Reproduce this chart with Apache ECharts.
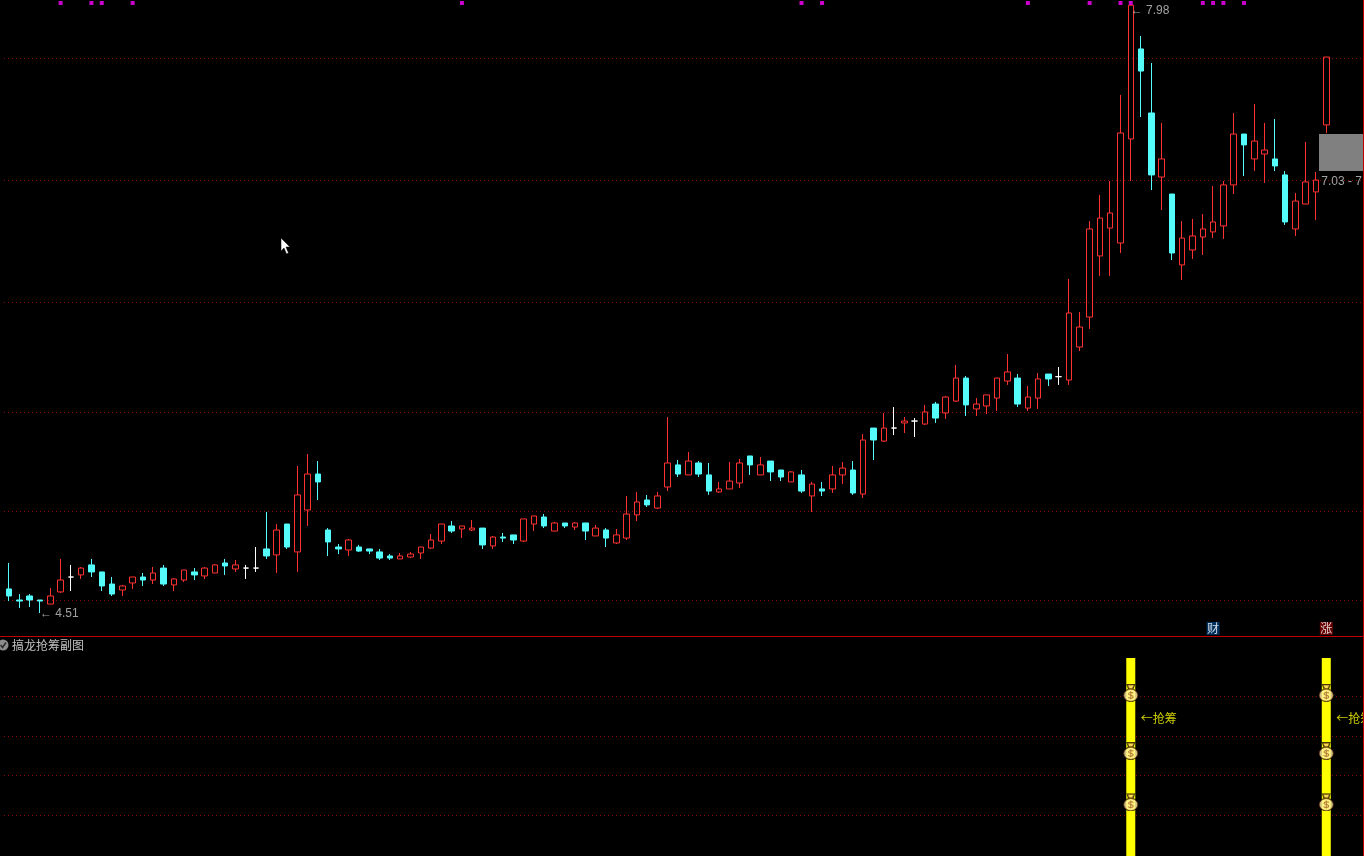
<!DOCTYPE html>
<html>
<head>
<meta charset="utf-8">
<style>html,body{margin:0;padding:0;background:#000;overflow:hidden}#c{width:1364px;height:856px}</style>
<script src="https://cdn.jsdelivr.net/npm/echarts@6/dist/echarts.min.js"></script>
</head>
<body>
<div id="c"></div>
<script>
const opens = [
4.653,4.590,4.613,4.590,4.567,4.636,4.721,4.733,4.790,4.750,
4.681,4.647,4.687,4.721,4.704,4.772,4.676,4.704,4.750,4.727,
4.744,4.801,4.767,4.772,4.772,4.881,4.847,5.023,4.864,5.103,
5.308,4.989,4.892,4.875,4.892,4.881,4.864,4.841,4.824,4.835,
4.858,4.886,4.926,5.012,4.995,4.989,5.000,4.898,4.949,4.961,
4.926,5.023,5.063,4.983,5.029,5.006,5.029,4.955,4.989,4.915,
4.943,5.075,5.160,5.114,5.234,5.360,5.303,5.371,5.303,5.206,
5.223,5.257,5.411,5.303,5.382,5.331,5.263,5.303,5.183,5.223,
5.223,5.303,5.331,5.194,5.570,5.496,5.570,5.599,5.610,5.593,
5.707,5.656,5.724,5.855,5.679,5.696,5.741,5.838,5.855,5.684,
5.741,5.878,5.863,5.844,6.032,6.203,6.551,6.710,6.625,7.218,
7.731,7.366,7.001,6.904,6.500,6.585,6.659,6.688,6.722,6.956,
7.246,7.104,7.132,7.104,7.013,6.705,6.847,6.916,7.298];
const closes = [
4.613,4.584,4.590,4.584,4.613,4.704,4.721,4.772,4.750,4.670,
4.624,4.670,4.721,4.704,4.744,4.681,4.710,4.761,4.733,4.772,
4.790,4.784,4.790,4.772,4.772,4.841,4.989,4.892,5.189,5.308,
5.263,4.921,4.881,4.932,4.869,4.869,4.829,4.829,4.841,4.852,
4.892,4.932,5.023,4.983,5.012,5.000,4.904,4.949,4.943,4.932,
5.052,5.069,5.012,5.029,5.012,5.029,4.983,5.000,4.943,4.961,
5.080,5.149,5.132,5.183,5.371,5.308,5.382,5.308,5.211,5.223,
5.268,5.371,5.360,5.360,5.320,5.291,5.320,5.211,5.251,5.211,
5.303,5.342,5.200,5.502,5.502,5.570,5.570,5.610,5.610,5.662,
5.627,5.747,5.855,5.702,5.707,5.759,5.855,5.890,5.707,5.747,
5.850,5.850,5.863,6.226,6.146,6.705,6.767,6.796,7.252,7.980,
7.605,7.013,7.104,6.568,6.653,6.665,6.705,6.745,6.956,7.246,
7.184,7.206,7.155,7.064,6.745,6.864,6.973,6.984,7.685];
const lows = [
4.584,4.544,4.550,4.516,4.567,4.630,4.641,4.710,4.721,4.641,
4.613,4.613,4.653,4.670,4.681,4.670,4.641,4.693,4.704,4.710,
4.744,4.733,4.750,4.710,4.750,4.824,4.744,4.881,4.750,5.012,
5.160,4.841,4.852,4.841,4.864,4.852,4.818,4.818,4.824,4.829,
4.824,4.881,4.909,4.972,4.943,4.983,4.881,4.881,4.921,4.909,
4.921,4.983,5.000,4.983,5.000,4.989,4.932,4.955,4.892,4.909,
4.932,5.040,5.120,5.109,5.211,5.291,5.303,5.291,5.189,5.200,
5.223,5.228,5.303,5.303,5.268,5.268,5.263,5.200,5.092,5.183,
5.200,5.251,5.189,5.171,5.388,5.491,5.530,5.542,5.519,5.588,
5.599,5.622,5.719,5.639,5.639,5.650,5.667,5.816,5.690,5.667,
5.679,5.810,5.816,5.816,6.009,6.135,6.437,6.437,6.568,6.978,
7.343,6.927,6.813,6.528,6.414,6.534,6.557,6.653,6.648,6.904,
7.007,7.035,6.967,7.035,6.728,6.665,6.847,6.756,7.252];
const highs = [
4.801,4.624,4.624,4.590,4.658,4.824,4.790,4.778,4.824,4.750,
4.721,4.676,4.721,4.744,4.778,4.790,4.715,4.761,4.772,4.778,
4.795,4.824,4.818,4.790,4.892,5.092,5.023,5.023,5.354,5.422,
5.382,5.000,4.909,4.938,4.904,4.881,4.881,4.852,4.858,4.864,
4.892,4.966,5.023,5.040,5.012,5.046,5.000,4.955,4.972,4.961,
5.052,5.069,5.080,5.035,5.029,5.035,5.029,5.018,5.000,4.995,
5.183,5.206,5.189,5.206,5.633,5.388,5.434,5.382,5.371,5.263,
5.377,5.394,5.411,5.405,5.382,5.331,5.325,5.331,5.263,5.263,
5.354,5.377,5.382,5.536,5.570,5.656,5.690,5.633,5.627,5.702,
5.719,5.753,5.930,5.867,5.741,5.759,5.855,5.992,5.878,5.810,
5.884,5.878,5.918,6.420,6.232,6.750,6.899,6.978,7.469,7.980,
7.805,7.651,7.309,6.904,6.750,6.762,6.790,6.950,6.978,7.366,
7.246,7.417,7.309,7.332,7.035,6.910,7.201,7.030,7.685];

const sessions = Array.from({length: 132}, (_, i) => String(i + 1));
const priceMin = 4.3848, priceMax = 8.01;
const priceGrid = [7.67655, 6.98115, 6.28575, 5.65875, 5.09445, 4.58715];
const subGrid = [72.83, 54.57, 36.76, 18.49];
const signalDays = [5, 8, 9, 12, 44, 77, 79, 99, 105, 108, 109, 116, 117, 118, 120];
const signalLevel = 7.993;
const chipBars = [[109, 90.4], [128, 90.4]];
const bagLevels = [74.4, 47.9, 24.5];
const priceNotes = [
  {idx: 3, price: 4.51, text: '← 4.51', dx: 0},
  {idx: 109, price: 7.95, text: '← 7.98', dx: 0},
  {idx: 128, price: 6.972, text: '7.03 - 7', dx: -5}
];
const priceBox = [128, 7.035, 7.246];
const badges = [{idx: 117, price: 4.428, text: '财', bg: '#003c74'}, {idx: 128, price: 4.428, text: '涨', bg: '#800000'}];
const subNotes = [{idx: 109, level: 63, text: '←抢筹'}, {idx: 128, level: 63, text: '←抢筹'}];

const RED = '#ff3232', CYAN = '#54fcfc', GRID = '#8c0808';
const bagSvg = "<svg xmlns='http://www.w3.org/2000/svg' width='48' height='54' viewBox='0 0 15 17'>" +
  "<ellipse cx='7.5' cy='10.6' rx='7.5' ry='6.4' fill='#000'/><path d='M3.2 0H11.8L10 5H5Z' fill='#000'/>" +
  "<path d='M4.5 1H10.5L9 4.2H6Z' fill='#f5d26a' stroke='#6b2a10' stroke-width='.6'/>" +
  "<ellipse cx='7.5' cy='10.6' rx='6.6' ry='5.6' fill='#fff0a0' stroke='#7a3a18' stroke-width='.7'/>" +
  "<path d='M10 8.6C9 7.6 5.4 7.6 5.4 9.4C5.4 11 9.8 10.2 9.8 12.1C9.8 13.8 6 13.6 5 12.6M7.5 6.8V14.4' fill='none' stroke='#a05a40' stroke-width='1'/></svg>";
const bagSymbol = 'image://data:image/svg+xml;charset=utf-8,' + encodeURIComponent(bagSvg);

const bagData = [];
chipBars.forEach(b => bagLevels.forEach(v => bagData.push([b[0], v])));

const option = {
  backgroundColor: '#000',
  animation: false,
  tooltip: {show: false},
  grid: [
    {left: 4, top: 0, width: 1358.3, height: 636},
    {left: 4, top: 637, width: 1358.3, height: 219}
  ],
  xAxis: [
    {type: 'category', gridIndex: 0, data: sessions, show: false},
    {type: 'category', gridIndex: 1, data: sessions, show: false}
  ],
  yAxis: [
    {type: 'value', gridIndex: 0, min: priceMin, max: priceMax, show: false, splitLine: {show: false}},
    {type: 'value', gridIndex: 1, min: 0, max: 100, show: false, splitLine: {show: false}}
  ],
  series: [
    {
      type: 'candlestick', xAxisIndex: 0, yAxisIndex: 0, barWidth: 6, z: 3,
      data: opens.map((o, i) => [o, closes[i], lows[i], highs[i]]),
      itemStyle: {color: 'rgba(0,0,0,0)', color0: CYAN, borderColor: RED, borderColor0: CYAN, borderColorDoji: '#ffffff', borderWidth: 1},
      markLine: {silent: true, symbol: 'none', animation: false, z: 1, label: {show: false}, precision: 6,
        lineStyle: {color: GRID, width: 1, type: [1, 3]}, data: priceGrid.map(v => ({yAxis: v}))}
    },
    {
      type: 'custom', xAxisIndex: 0, yAxisIndex: 0, z: 4, clip: false,
      data: [priceBox], encode: {x: 0, y: [1, 2]},
      renderItem(params, api) {
        const lo = api.coord([api.value(0), api.value(1)]);
        const hi = api.coord([api.value(0), api.value(2)]);
        return {type: 'rect', shape: {x: Math.round(lo[0]) - 7, y: Math.round(hi[1]), width: 44, height: Math.round(lo[1]) - Math.round(hi[1])}, style: {fill: '#808080'}};
      }
    },
    {
      type: 'scatter', xAxisIndex: 0, yAxisIndex: 0, symbol: 'rect', symbolSize: 4, z: 5, silent: true,
      itemStyle: {color: '#ff00ff'}, data: signalDays.map(d => [d, signalLevel])
    },
    {
      type: 'scatter', xAxisIndex: 0, yAxisIndex: 0, symbolSize: 0, z: 6, silent: true,
      data: priceNotes.map(n => ({value: [n.idx, n.price], name: n.text,
        label: {show: true, position: 'right', distance: 0, offset: [n.dx, 0], formatter: n.text, color: '#c8c8c8', fontFamily: 'Liberation Sans', fontSize: 12}}))
    },
    {
      type: 'scatter', xAxisIndex: 0, yAxisIndex: 0, symbolSize: 0, z: 6, silent: true,
      data: badges.map(n => ({value: [n.idx, n.price], name: n.text,
        label: {show: true, position: 'inside', formatter: n.text, color: '#fff', fontFamily: 'Noto Sans CJK SC', fontSize: 12, lineHeight: 13, backgroundColor: n.bg, padding: [0, 0.5]}}))
    },
    {
      type: 'bar', xAxisIndex: 1, yAxisIndex: 1, barWidth: 9, z: 3, silent: true,
      itemStyle: {color: '#ffff00'}, data: chipBars,
      markLine: {silent: true, symbol: 'none', animation: false, z: 1, label: {show: false}, precision: 6,
        lineStyle: {color: GRID, width: 1, type: [1, 3]}, data: subGrid.map(v => ({yAxis: v}))}
    },
    {
      type: 'scatter', xAxisIndex: 1, yAxisIndex: 1, symbol: bagSymbol, symbolSize: [16, 18], z: 5, silent: true,
      data: bagData
    },
    {
      type: 'scatter', xAxisIndex: 1, yAxisIndex: 1, symbolSize: 0, z: 6, silent: true,
      data: subNotes.map(n => ({value: [n.idx, n.level], name: n.text,
        label: {show: true, position: 'right', distance: 0, offset: [10, 0], formatter: n.text, color: '#ffff00', fontFamily: 'Noto Sans CJK SC', fontSize: 12}}))
    }
  ],
  graphic: [
    {type: 'rect', z: 100, shape: {x: 0, y: 636, width: 1364, height: 1}, style: {fill: '#c00000'}, silent: true},
    {type: 'rect', z: 100, shape: {x: 1363, y: 0, width: 1, height: 856}, style: {fill: '#c00000'}, silent: true},
    {type: 'circle', z: 100, shape: {cx: 3, cy: 645, r: 5.5}, style: {fill: '#8c8c8c'}, silent: true},
    {type: 'polyline', z: 101, shape: {points: [[0.5, 645], [2.5, 647.5], [6, 642.5]]}, style: {stroke: '#2a2a2a', lineWidth: 1.5, fill: null}, silent: true},
    {type: 'text', z: 100, x: 12, y: 645, silent: true, style: {text: '搞龙抢筹副图', fill: '#c0c0c0', font: '12px "Noto Sans CJK SC"', verticalAlign: 'middle'}},
    {type: 'polygon', z: 100, silent: true, shape: {points: [[281, 238], [281, 251], [284, 248], [286.5, 254], [288.5, 253], [286, 247], [290, 247]]}, style: {fill: '#fff', stroke: '#000', lineWidth: 0.5}}
  ]
};
const chart = echarts.init(document.getElementById('c'), null, {renderer: 'canvas', width: 1364, height: 856});
chart.setOption(option);
</script>
</body>
</html>
